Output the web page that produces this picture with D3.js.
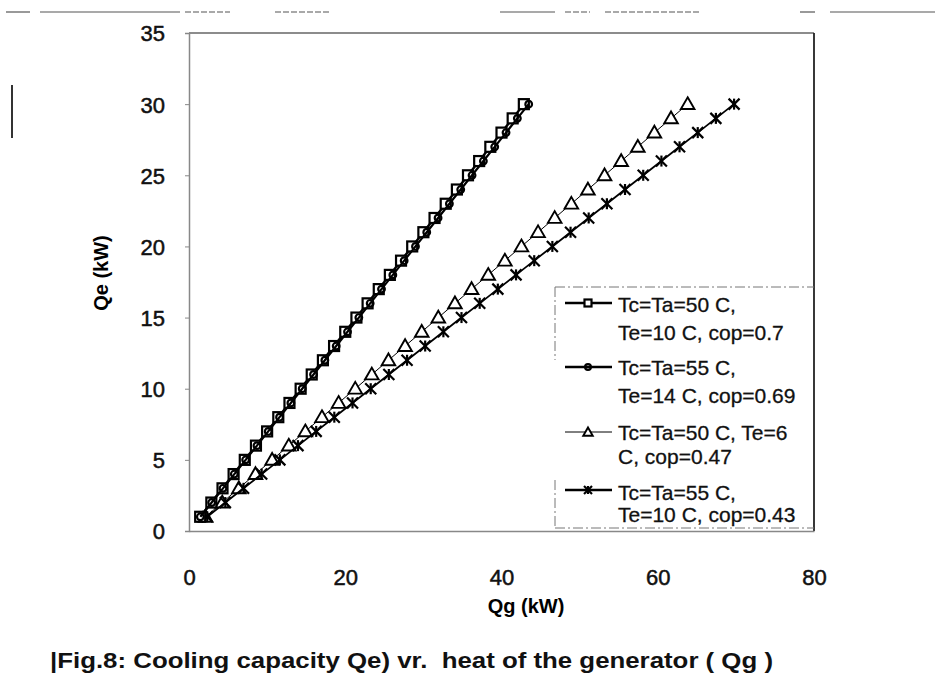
<!DOCTYPE html>
<html><head><meta charset="utf-8">
<script src="https://cdn.jsdelivr.net/npm/d3@7"></script>
<style>body{margin:0;background:#fff}svg{display:block}</style>
</head><body>
<script>
// Qe values (kW), shared by all series
const qe = [1,2,3,4,5,6,7,8,9,10,11,12,13,14,15,16,17,18,19,20,21,22,23,24,25,26,27,28,29,30];
// Qg values (kW)
const qgA = [1.43,2.86,4.29,5.71,7.14,8.57,10.0,11.43,12.86,14.29,15.71,17.14,18.57,20.0,21.43,22.86,24.29,25.71,27.14,28.57,30.0,31.43,32.86,34.29,35.71,37.14,38.57,40.0,41.43,42.86];
const qgB = [1.45,2.90,4.35,5.80,7.25,8.70,10.14,11.59,13.04,14.49,15.94,17.39,18.84,20.29,21.74,23.19,24.64,26.09,27.54,28.99,30.43,31.88,33.33,34.78,36.23,37.68,39.13,40.58,42.03,43.48];
const qgC = [2.13,4.26,6.38,8.51,10.64,12.77,14.89,17.02,19.15,21.28,23.40,25.53,27.66,29.79,31.91,34.04,36.17,38.30,40.43,42.55,44.68,46.81,48.94,51.06,53.19,55.32,57.45,59.57,61.70,63.83];
const qgD = [2.33,4.65,6.98,9.30,11.63,13.95,16.28,18.60,20.93,23.26,25.58,27.91,30.23,32.56,34.88,37.21,39.53,41.86,44.19,46.51,48.84,51.16,53.49,55.81,58.14,60.47,62.79,65.12,67.44,69.77];
const seriesNames = [
  ["Tc=Ta=50 C,", "Te=10 C, cop=0.7"],
  ["Tc=Ta=55 C,", "Te=14 C, cop=0.69"],
  ["Tc=Ta=50 C, Te=6", "C, cop=0.47"],
  ["Tc=Ta=55 C,", "Te=10 C, cop=0.43"]
];
const markerTypes = ["square","circle","triangle","star"];
const xTicks = [0,20,40,60,80];
const yTicks = [0,5,10,15,20,25,30,35];
const xLabel = "Qg (kW)", yLabel = "Qe (kW)";
const caption = "Fig.8: Cooling capacity Qe) vr.  heat of the generator ( Qg )";

const W = 952, H = 684;
const svg = d3.select("body").append("svg").attr("width", W).attr("height", H);
const font = "Arial, 'Liberation Sans', sans-serif";

const x = d3.scaleLinear().domain([0,80]).range([189,814]);
const y = d3.scaleLinear().domain([0,35]).range([531,33]);

// scan artefacts
const art = svg.append("g").attr("stroke","#555").attr("stroke-width",1.2);
[[6,12,30],[40,12,180],[185,12,230],[275,12,330],[500,12,555],[565,12,590],[605,12,700],[800,12,815],[830,12,935]].forEach(d=>{
  art.append("line").attr("x1",d[0]).attr("x2",d[2]).attr("y1",d[1]).attr("y2",d[1]).attr("stroke-dasharray", d[0]%2?"6,2":null);
});
art.append("line").attr("x1",12).attr("x2",12).attr("y1",85).attr("y2",138).attr("stroke-width",2).attr("stroke","#333");

// frame
const frame = svg.append("g").attr("fill","none");
frame.append("line").attr("x1",x(0)).attr("x2",x(80)).attr("y1",y(35)).attr("y2",y(35)).attr("stroke","#666").attr("stroke-width",1.5);
frame.append("line").attr("x1",x(80)).attr("x2",x(80)).attr("y1",y(35)).attr("y2",y(0)).attr("stroke","#222").attr("stroke-width",1.8);

// axes
const yAxis = svg.append("g").attr("transform",`translate(${x(0)},0)`)
  .call(d3.axisLeft(y).tickValues(yTicks).tickSize(4).tickPadding(20));
const xAxis = svg.append("g").attr("transform",`translate(0,${y(0)})`)
  .call(d3.axisBottom(x).tickValues(xTicks).tickSize(0).tickPadding(38));
[xAxis,yAxis].forEach(a=>{
  a.select(".domain").attr("stroke","#888").attr("stroke-width",1.5);
  a.selectAll(".tick line").attr("stroke","#888");
  a.selectAll("text").attr("font-family",font).attr("font-size",22).attr("font-weight","normal")
    .attr("fill","#111").attr("stroke","#111").attr("stroke-width",0.5);
});
yAxis.selectAll("text").attr("dy","0.36em");

// axis titles
svg.append("text").attr("x",526).attr("y",613).attr("text-anchor","middle")
  .attr("font-family",font).attr("font-size",20).attr("font-weight","bold").text(xLabel);
svg.append("text").attr("transform","translate(108,273) rotate(-90)").attr("text-anchor","middle")
  .attr("font-family",font).attr("font-size",20).attr("font-weight","bold").text(yLabel);

const series = [qgA,qgB,qgC,qgD];
const lineW = [2.4,2.2,1.0,1.8];
const line = d3.line().x(d=>x(d[0])).y(d=>y(d[1]));

function marker(g, type, cx, cy, s) {
  if (type==="square") {
    g.append("rect").attr("x",cx-s/2).attr("y",cy-s/2).attr("width",s).attr("height",s)
      .attr("fill","#fff").attr("stroke","#000").attr("stroke-width",2.2);
  } else if (type==="circle") {
    g.append("circle").attr("cx",cx).attr("cy",cy).attr("r",s/2.4)
      .attr("fill","none").attr("stroke","#000").attr("stroke-width",2.2);
  } else if (type==="triangle") {
    const p = d3.symbol().type(d3.symbolTriangle).size(s*s*0.8)();
    g.append("path").attr("d",p).attr("transform",`translate(${cx},${cy+1})`)
      .attr("fill","#fff").attr("stroke","#000").attr("stroke-width",1.9);
  } else {
    const r = s/2+0.5;
    const pts = [[-r,-r,r,r],[-r,r,r,-r],[0,-r,0,r]];
    pts.forEach(p=>g.append("line").attr("x1",cx+p[0]).attr("y1",cy+p[1]).attr("x2",cx+p[2]).attr("y2",cy+p[3])
      .attr("stroke","#000").attr("stroke-width",2.2));
  }
}

const plot = svg.append("g");
// draw in order: triangles, stars, squares, circles
[2,3,0,1].forEach(i=>{
  const pts = series[i].map((v,k)=>[v,qe[k]]);
  const g = plot.append("g");
  g.append("path").attr("d",line(pts)).attr("fill","none").attr("stroke","#000").attr("stroke-width",lineW[i]);
  pts.forEach(p=>marker(g, markerTypes[i], x(p[0]), y(p[1]), i===1?8:10));
});

// legend
const lg = svg.append("g");
lg.append("path").attr("d","M555,287 H814 M555,287 V360 M555,480 V528 M555,528 H814")
  .attr("fill","none").attr("stroke","#777").attr("stroke-width",1).attr("stroke-dasharray","10,3,2,3");
const rowLine = [303,367,432,490];
const rowBase = [[312,340],[375,403],[440,464],[500,522]];
seriesNames.forEach((nm,i)=>{
  const yy = rowLine[i];
  lg.append("line").attr("x1",565).attr("x2",612).attr("y1",yy).attr("y2",yy)
    .attr("stroke","#000").attr("stroke-width",i===2?1:2.6);
  marker(lg, markerTypes[i], 588, yy, 7);
  const t = lg.append("text").attr("font-family",font).attr("font-size",21).attr("fill","#111")
    .attr("stroke","#111").attr("stroke-width",0.3);
  t.append("tspan").attr("x",618).attr("y",rowBase[i][0]).text(nm[0]);
  t.append("tspan").attr("x",618).attr("y",rowBase[i][1]).text(nm[1]);
});

// caption
svg.append("text").attr("x",50).attr("y",668).attr("font-family",font).attr("font-size",22)
  .attr("font-weight","bold").attr("fill","#111").style("white-space","pre")
  .attr("textLength",723).attr("lengthAdjust","spacingAndGlyphs").text("|" + caption);
</script>
</body></html>
